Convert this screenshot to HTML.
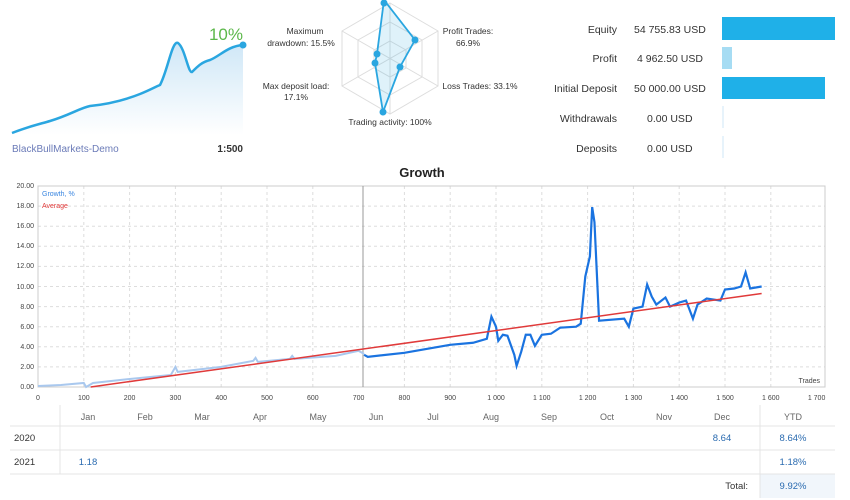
<!DOCTYPE html>
<html><head><meta charset="utf-8"><style>
body{margin:0;width:850px;height:500px;background:#fff;font-family:"Liberation Sans",sans-serif;overflow:hidden}
svg{position:absolute;left:0;top:0}
</style></head><body>
<svg width="850" height="500" font-family="Liberation Sans, sans-serif">
<defs><linearGradient id="ga" x1="0" y1="0" x2="0" y2="1"><stop offset="0" stop-color="#cfe7f7"/><stop offset="1" stop-color="#fff"/></linearGradient></defs>
<!-- mini chart -->
<path d="M12,133 C30,126 40,124 50,121 C70,115 80,108 90,106 C110,104 125,100 140,94 C150,90 155,87 160,85 C168,70 172,40 178,43 C185,48 188,73 192,72 C198,66 202,62 210,60 C220,56 228,46 243,45 L243,135 L12,135Z" fill="url(#ga)"/>
<path d="M12,133 C30,126 40,124 50,121 C70,115 80,108 90,106 C110,104 125,100 140,94 C150,90 155,87 160,85 C168,70 172,40 178,43 C185,48 188,73 192,72 C198,66 202,62 210,60 C220,56 228,46 243,45" fill="none" stroke="#2aa6e0" stroke-width="2.5"/>
<circle cx="243" cy="45" r="3.5" fill="#2aa6e0"/>
<text x="243" y="40" font-size="17" fill="#5cb84a" text-anchor="end">10%</text>
<text x="12" y="152" font-size="10" fill="#6b7bb8">BlackBullMarkets-Demo</text>
<text x="243" y="152" font-size="10" fill="#333" text-anchor="end" font-weight="bold">1:500</text>
<!-- radar -->
<g fill="none" stroke="#ddd">
<polygon points="390,3 438,31 438,86 390,114 342,86 342,31"/>
<polygon points="390,22 422,40 422,77 390,95 358,77 358,40"/>
<polygon points="390,41 406,50 406,68 390,77 374,68 374,50"/>
<line x1="390" y1="3" x2="390" y2="114"/><line x1="342" y1="31" x2="438" y2="86"/><line x1="342" y1="86" x2="438" y2="31"/>
</g>
<polygon points="384,0 415,40 400,67 383,112 375,63 377,54" fill="rgba(42,166,224,0.15)" stroke="#2aa6e0" stroke-width="1.8"/>
<g fill="#2aa6e0"><circle cx="384" cy="3" r="3.5"/><circle cx="415" cy="40" r="3.5"/><circle cx="400" cy="67" r="3.5"/><circle cx="383" cy="112" r="3.5"/><circle cx="375" cy="63" r="3.5"/><circle cx="377" cy="54" r="3.5"/></g>
<g font-size="8.5" fill="#333" text-anchor="middle">
<text x="305" y="34">Maximum</text><text x="301" y="46">drawdown: 15.5%</text>
<text x="468" y="34">Profit Trades:</text><text x="468" y="46">66.9%</text>
<text x="296" y="89">Max deposit load:</text><text x="296" y="100">17.1%</text>
<text x="480" y="89">Loss Trades: 33.1%</text>
<text x="390" y="125">Trading activity: 100%</text>
</g>
<!-- stats -->
<g font-size="10.5" fill="#333">
<g text-anchor="end"><text x="617" y="33">Equity</text><text x="617" y="62">Profit</text><text x="617" y="92">Initial Deposit</text><text x="617" y="122">Withdrawals</text><text x="617" y="152">Deposits</text></g>
<text x="634" y="33">54 755.83 USD</text><text x="637" y="62">4 962.50 USD</text><text x="634" y="92">50 000.00 USD</text><text x="647" y="122">0.00 USD</text><text x="647" y="152">0.00 USD</text>
</g>
<rect x="722" y="17" width="113" height="23" fill="#1fb0e8"/>
<rect x="722" y="47" width="10" height="22" fill="#a6dcf3"/>
<rect x="722" y="77" width="103" height="22" fill="#1fb0e8"/>
<line x1="723" y1="106" x2="723" y2="128" stroke="#cfe7f7"/><line x1="723" y1="136" x2="723" y2="158" stroke="#cfe7f7"/>
<!-- growth -->
<text x="422" y="177" font-size="13" font-weight="bold" fill="#222" text-anchor="middle">Growth</text>
<g stroke="#ddd" stroke-dasharray="3,3">
<line x1="38" y1="366.9" x2="825" y2="366.9"/><line x1="38" y1="346.8" x2="825" y2="346.8"/><line x1="38" y1="326.7" x2="825" y2="326.7"/><line x1="38" y1="306.6" x2="825" y2="306.6"/><line x1="38" y1="286.5" x2="825" y2="286.5"/><line x1="38" y1="266.4" x2="825" y2="266.4"/><line x1="38" y1="246.3" x2="825" y2="246.3"/><line x1="38" y1="226.2" x2="825" y2="226.2"/><line x1="38" y1="206.1" x2="825" y2="206.1"/>
<line x1="83.8" y1="186" x2="83.8" y2="387"/><line x1="129.6" y1="186" x2="129.6" y2="387"/><line x1="175.4" y1="186" x2="175.4" y2="387"/><line x1="221.2" y1="186" x2="221.2" y2="387"/><line x1="267" y1="186" x2="267" y2="387"/><line x1="312.8" y1="186" x2="312.8" y2="387"/><line x1="404.4" y1="186" x2="404.4" y2="387"/><line x1="450.2" y1="186" x2="450.2" y2="387"/><line x1="496" y1="186" x2="496" y2="387"/><line x1="541.8" y1="186" x2="541.8" y2="387"/><line x1="587.6" y1="186" x2="587.6" y2="387"/><line x1="633.4" y1="186" x2="633.4" y2="387"/><line x1="679.2" y1="186" x2="679.2" y2="387"/><line x1="725" y1="186" x2="725" y2="387"/><line x1="770.8" y1="186" x2="770.8" y2="387"/>
</g>
<rect x="38" y="186" width="787" height="201" fill="none" stroke="#ccc"/>
<line x1="363" y1="186" x2="363" y2="387" stroke="#999"/>
<g font-size="7" fill="#444" text-anchor="end">
<text x="34" y="389">0.00</text><text x="34" y="369">2.00</text><text x="34" y="349">4.00</text><text x="34" y="329">6.00</text><text x="34" y="309">8.00</text><text x="34" y="289">10.00</text><text x="34" y="268">12.00</text><text x="34" y="248">14.00</text><text x="34" y="228">16.00</text><text x="34" y="208">18.00</text><text x="34" y="188">20.00</text>
</g>
<g font-size="7" fill="#444" text-anchor="middle">
<text x="38" y="400">0</text><text x="83.8" y="400">100</text><text x="129.6" y="400">200</text><text x="175.4" y="400">300</text><text x="221.2" y="400">400</text><text x="267" y="400">500</text><text x="312.8" y="400">600</text><text x="358.6" y="400">700</text><text x="404.4" y="400">800</text><text x="450.2" y="400">900</text><text x="496" y="400">1 000</text><text x="541.8" y="400">1 100</text><text x="587.6" y="400">1 200</text><text x="633.4" y="400">1 300</text><text x="679.2" y="400">1 400</text><text x="725" y="400">1 500</text><text x="770.8" y="400">1 600</text><text x="816.6" y="400">1 700</text>
</g>
<text x="820" y="383" font-size="7" fill="#444" text-anchor="end">Trades</text>
<text x="42" y="196" font-size="7" fill="#3a86e0">Growth, %</text>
<text x="42" y="208" font-size="7" fill="#e03a3a">Average</text>
<g transform="translate(38,387) scale(0.458,-10.05)" fill="none">
<polyline vector-effect="non-scaling-stroke" stroke="#a9c8ee" stroke-width="2" points="0,0.1 50,0.2 100,0.4 105,0 120,0.4 200,0.8 290,1.2 300,2 305,1.5 400,2 470,2.6 475,2.9 480,2.5 550,2.8 555,3.1 560,2.8 650,3.1 700,3.6 712,3.3"/>
<polyline vector-effect="non-scaling-stroke" stroke="#1a73e0" stroke-width="2.2" points="712,3.2 720,3 800,3.4 850,3.8 900,4.2 950,4.4 980,4.8 990,7 1000,6 1005,4.6 1015,5.2 1025,5.1 1040,3.2 1045,2.1 1055,3.5 1065,5.2 1075,5.2 1085,4.1 1100,5.2 1120,5.3 1140,5.9 1175,6 1185,6.3 1195,11 1205,13 1210,17.9 1215,16.4 1225,6.6 1280,6.8 1290,6 1300,7.8 1320,8 1330,10.2 1340,9 1350,8.2 1370,8.9 1380,8 1400,8.4 1415,8.6 1425,7.4 1430,6.8 1440,8.2 1460,8.8 1490,8.6 1500,9.7 1520,9.8 1535,10 1545,11.4 1555,9.8 1580,10"/>
<line vector-effect="non-scaling-stroke" x1="115" y1="0" x2="1580" y2="9.3" stroke="#e03a3a" stroke-width="1.5"/>
</g>
<!-- table -->
<g font-size="9" fill="#666" text-anchor="middle">
<text x="88" y="420">Jan</text><text x="145" y="420">Feb</text><text x="202" y="420">Mar</text><text x="260" y="420">Apr</text><text x="318" y="420">May</text><text x="376" y="420">Jun</text><text x="433" y="420">Jul</text><text x="491" y="420">Aug</text><text x="549" y="420">Sep</text><text x="607" y="420">Oct</text><text x="664" y="420">Nov</text><text x="722" y="420">Dec</text><text x="793" y="420">YTD</text>
</g>
<rect x="760" y="474" width="75" height="24" fill="#f1f6fb"/>
<g stroke="#e4e4e4"><line x1="10" y1="426" x2="835" y2="426"/><line x1="10" y1="450" x2="835" y2="450"/><line x1="10" y1="474" x2="835" y2="474"/><line x1="60" y1="405" x2="60" y2="474"/><line x1="760" y1="405" x2="760" y2="498"/></g>
<g font-size="9.5" fill="#333"><text x="14" y="441">2020</text><text x="14" y="465">2021</text><text x="748" y="489" text-anchor="end">Total:</text></g>
<g font-size="9.5" fill="#2a6bb0" text-anchor="middle"><text x="722" y="441">8.64</text><text x="793" y="441">8.64%</text><text x="88" y="465">1.18</text><text x="793" y="465">1.18%</text><text x="793" y="489">9.92%</text></g>
</svg>
</body></html>
